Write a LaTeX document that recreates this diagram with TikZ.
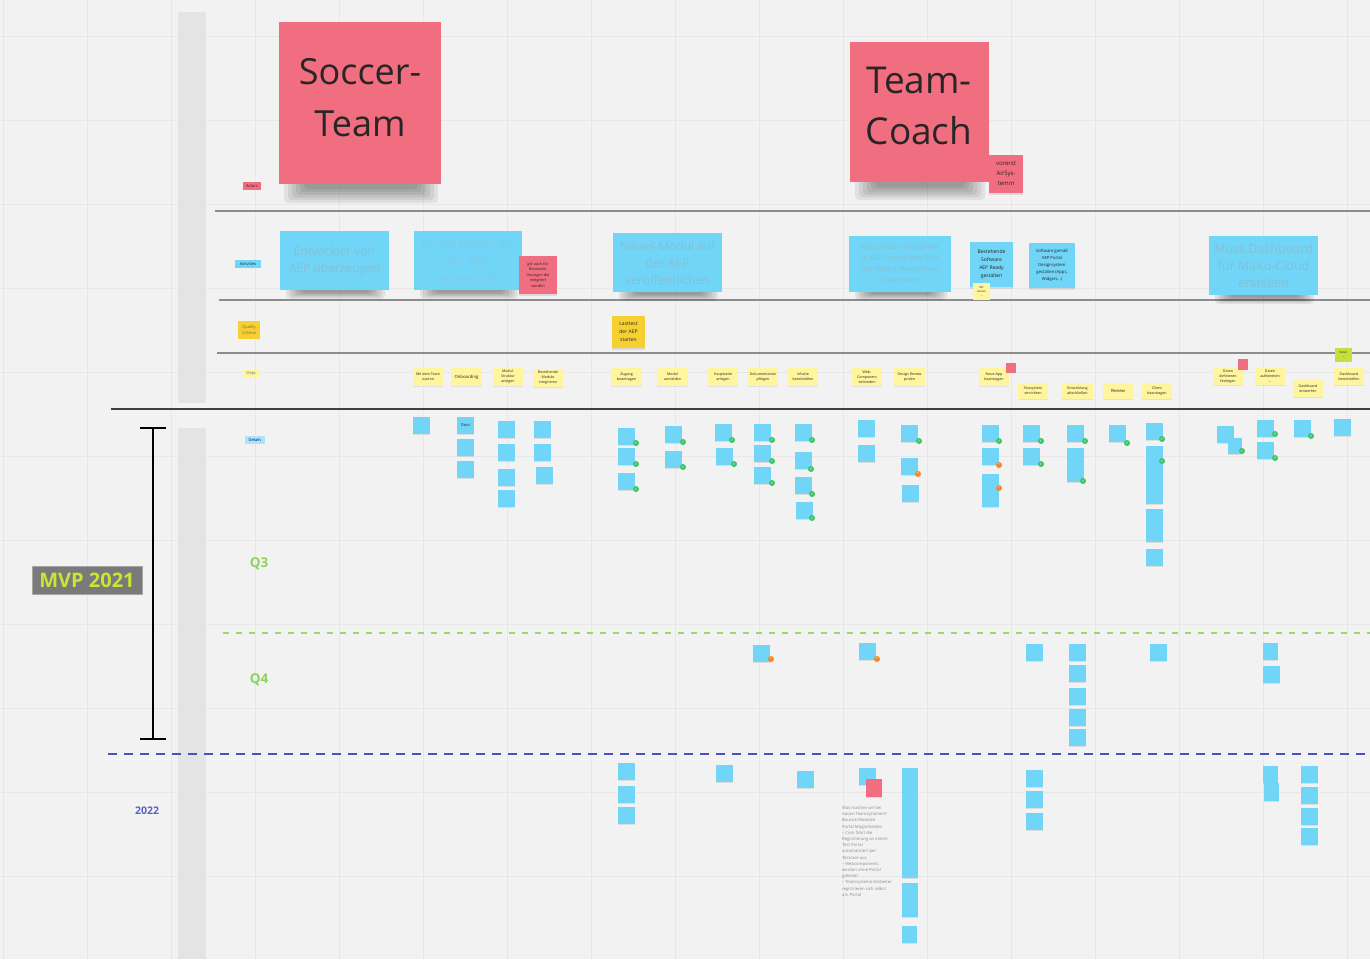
\documentclass[tikz,border=0pt]{standalone}
\usepackage{fontspec}
\setmainfont{Open Sans}
\newfontfamily\dejavu{DejaVu Sans}
\usetikzlibrary{shadows}
\definecolor{bg}{HTML}{F2F2F2}
\definecolor{gridc}{HTML}{E7E7E7}
\definecolor{band}{HTML}{E4E4E4}
\definecolor{pinkst}{HTML}{F16D80}
\definecolor{bluest}{HTML}{70D5F6}
\definecolor{yelst}{HTML}{FFF59E}
\definecolor{qyel}{HTML}{F6D030}
\definecolor{limest}{HTML}{C5DF3C}
\definecolor{faint}{HTML}{86BFD6}
\definecolor{fainter}{HTML}{7FCBE6}
\definecolor{linec}{HTML}{8C8C8C}
\definecolor{qgreen}{HTML}{8CD25E}
\definecolor{dgreen}{HTML}{9AD86A}
\definecolor{dblue}{HTML}{4A4FC6}
\definecolor{yblue}{HTML}{5A62C4}
\definecolor{mvpgrey}{HTML}{7A7A7A}
\definecolor{mvptext}{HTML}{C9E635}
\definecolor{okgreen}{HTML}{3CC468}
\definecolor{warnor}{HTML}{F7882A}
\tikzset{
  stk/.style={anchor=north west, inner sep=0pt, outer sep=0pt, align=center, text=black!85},
  pinknote/.style={stk, fill=pinkst},
  bluenote/.style={stk, fill=bluest},
  yelnote/.style={stk, fill=yelst, font=\fontsize{3.6}{5}\selectfont,
    drop shadow={shadow xshift=0pt, shadow yshift=-1pt, opacity=0.15}},
  det/.style={stk, fill=bluest, minimum width=17pt,
    drop shadow={shadow xshift=0pt, shadow yshift=-1pt, opacity=0.18}},
  chk/.style={circle, fill=okgreen, inner sep=0pt, minimum size=6pt},
  warn/.style={circle, fill=warnor, inner sep=0pt, minimum size=6pt},
  tag/.style={stk, font=\fontsize{4}{5.5}\selectfont},
  bigtxt/.style={font=\fontsize{12}{17}\selectfont, text=faint},
  lane/.style={linec, line width=1.3pt},
  bigword/.style={align=center, inner sep=0pt, text=black!85},
}
\newcommand{\stick}[7]{\node[#2, minimum width=#5pt, minimum height=#6pt] (#1) at (#3,#4) {#7};}
\newcommand{\dnote}[4][17]{\node[det, minimum height=#1pt] (#2) at (#3,#4) {};}
\newcommand{\okm}[3]{\node[chk] (#1) at (#2,#3) {\dejavu\fontsize{4}{4}\selectfont\textcolor{white}{✓}};}
\newcommand{\wrn}[3]{\node[warn] (#1) at (#2,#3) {\dejavu\fontsize{3.5}{4}\selectfont\textcolor{white}{•}};}
% soft shadow: #1 left, #2 top (sticky bottom), #3 right, #4 lowest extent, #5 step
\newcommand{\bshadow}[5]{%
  \foreach \si in {0,...,5} {%
    \fill[black, opacity=0.07, rounded corners=4pt]
      ({#1+#5*\si}, {#2-6}) rectangle ({#3-#5*\si}, {#4-\si*(#4-#2)/7});
  }%
}
\begin{document}
\begin{tikzpicture}[x=1pt, y=-1pt]
\fill[bg] (0,0) rectangle (1370,959);
\useasboundingbox (0,0) rectangle (1370,959);
% grid
\foreach \gx in {3,87,...,1347} \draw[gridc, line width=0.8pt] (\gx,0) -- (\gx,959);
\foreach \gy in {36,120,...,876} \draw[gridc, line width=0.8pt] (0,\gy) -- (1370,\gy);
% grey bands
\fill[band] (178,12) rectangle (206,403);
\fill[band] (178,428) rectangle (206,959);
% lane lines
\draw[lane] (215,211) -- (1370,211);
\draw[lane] (219,300) -- (1370,300);
\draw[lane] (217,353) -- (1370,353);
\draw[black!75, line width=1.4pt] (111,409) -- (1370,409);
% quarter / year separators
\draw[dgreen, line width=2pt, dash pattern=on 6pt off 7pt] (223,633) -- (1370,633);
\draw[dblue, line width=2.2pt, dash pattern=on 9pt off 7pt] (108,754) -- (1370,754);
% MVP bracket
\draw[black, line width=2.6pt] (153,428) -- (153,739);
\draw[black, line width=2.6pt] (140,428) -- (166,428);
\draw[black, line width=2.6pt] (140,739) -- (166,739);
\node[stk, fill=mvpgrey, draw=black!35, line width=0.6pt, minimum width=110pt, minimum height=28pt,
  text=mvptext, font=\bfseries\fontsize{20}{24}\selectfont] (mvp) at (32,566) {MVP 2021};
\node[text=qgreen, font=\bfseries\fontsize{13.5}{16}\selectfont] (q3) at (259,564) {Q3};
\node[text=qgreen, font=\bfseries\fontsize{13.5}{16}\selectfont] (q4) at (259,680) {Q4};
\node[text=yblue, font=\bfseries\fontsize{10.5}{12}\selectfont] (y22) at (147,811) {2022};
% row labels
\stick{lActors}{tag, fill=pinkst}{243}{182}{18}{8}{Actors}
\stick{lAct}{tag, fill=bluest}{235}{260}{26}{8}{Activities}
\stick{lQual}{tag, fill=qyel, text=black!60}{238}{321}{22}{18}{Quality\\Criteria}
\stick{lSteps}{tag, fill=yelst, text=black!55}{243}{370}{16}{8}{Steps}
\stick{lDet}{tag, fill=bluest!60, text=blue!50!black}{245}{436}{20}{8}{Details}
% big actor notes
\bshadow{284}{184}{438}{203}{4}
\stick{soccer}{pinknote}{279}{22}{162}{162}{}
\node[bigword, font=\fontsize{36}{52}\selectfont] (soccerT) at (360,98) {Soccer-\\Team};
\bshadow{855}{182}{985}{200}{4}
\stick{coach}{pinknote}{850}{42}{139}{140}{}
\node[bigword, font=\fontsize{37}{51}\selectfont] (coachT) at (919,106) {Team-\\Coach};
\stick{vorerst}{pinknote, font=\fontsize{6}{10}\selectfont,
  drop shadow={shadow xshift=0pt, shadow yshift=-1.5pt, opacity=0.2}}{989}{155}{34}{38}{vorerst\\AirSys-\\temm}
% activities
\bshadow{286}{290}{385}{299}{3}
\stick{act1}{bluenote, bigtxt}{280}{231}{109}{59}{Entwickler von\\AEP überzeugen}
\bshadow{420}{290}{518}{299}{3}
\stick{act2}{bluenote, bigtxt, text=fainter}{414}{231}{108}{59}{neues Modul für\\die AEP\\entwickeln}
\stick{gilt}{pinknote, font=\fontsize{3.8}{5.5}\selectfont,
  drop shadow={shadow xshift=0pt, shadow yshift=-1.5pt, opacity=0.2}}{519}{256}{38}{38}{gilt auch für\\Bestands-\\lösungen die\\integriert\\werden}
\bshadow{619}{292}{718}{301}{3}
\stick{act3}{bluenote, bigtxt}{613}{233}{109}{59}{Neues Modul auf\\der AEP\\veröffentlichen}
\bshadow{855}{292}{947}{300}{3}
\stick{act4}{bluenote, bigtxt, font=\fontsize{7.3}{11}\selectfont}{849}{236}{102}{56}{Muss Web-Component\\in AEP hinzufügen \& in\\das Modul Mako-Cloud\\integrieren}
\stick{act5}{bluenote, font=\fontsize{5}{8}\selectfont,
  drop shadow={shadow xshift=0pt, shadow yshift=-1.5pt, opacity=0.2}}{970}{242}{43}{45}{Bestehende\\Software\\AEP Ready\\gestalten}
\stick{yact5}{yelnote, font=\fontsize{2.8}{4}\selectfont}{973}{283}{17}{17}{Wir\\nutzen\\...}
\stick{act6}{bluenote, font=\fontsize{4.2}{7}\selectfont,
  drop shadow={shadow xshift=0pt, shadow yshift=-1.5pt, opacity=0.2}}{1029}{243}{46}{45}{Software gemäß\\AEP Portal\\Designsystem\\gestalten (Apps,\\Widgets...)}
\bshadow{1215}{295}{1314}{304}{3}
\stick{act7}{bluenote, bigtxt, font=\fontsize{12.5}{17}\selectfont}{1209}{236}{109}{59}{Muss Dashboard\\für MaKo-Cloud\\erstellen}
% quality criteria
\stick{qc1}{stk, fill=qyel, font=\fontsize{5}{8}\selectfont,
  drop shadow={shadow xshift=0pt, shadow yshift=-1.5pt, opacity=0.2}}{612}{316}{33}{32}{Lasttest\\der AEP\\starten}
% steps
\stick{s1}{yelnote}{413}{368}{30}{18}{Mit dem Team\\starten}
\stick{s2}{yelnote, font=\fontsize{4.3}{5}\selectfont}{451}{368}{31}{18}{Onboarding}
\stick{s3}{yelnote}{493}{368}{30}{18}{Modul-\\Struktur\\anlegen}
\stick{s4}{yelnote}{533}{369}{30}{18}{Bestehende\\Module\\integrieren}
\stick{s5}{yelnote}{611}{368}{31}{18}{Zugang\\beantragen}
\stick{s6}{yelnote}{657}{368}{31}{18}{Modul\\anmelden}
\stick{s7}{yelnote}{708}{368}{30}{18}{Hauptseite\\anlegen}
\stick{s8}{yelnote}{748}{368}{30}{18}{Dokumentation\\pflegen}
\stick{s9}{yelnote}{788}{368}{30}{18}{Inhalte\\bereitstellen}
\stick{s10}{yelnote}{852}{368}{30}{18}{Web-\\Component\\einbinden}
\stick{s11}{yelnote}{894}{368}{31}{18}{Design Review\\prüfen}
\stick{s12}{yelnote}{979}{368}{30}{18}{Neue App\\beantragen}
\stick{r1}{stk, fill=pinkst}{1006}{363}{10}{10}{}
\stick{s13}{yelnote}{1018}{383}{30}{16}{Testsystem\\einrichten}
\stick{s14}{yelnote}{1062}{383}{31}{16}{Entwicklung\\abschließen}
\stick{s15}{yelnote, font=\fontsize{4.3}{5}\selectfont}{1103}{383}{30}{16}{Review}
\stick{s16}{yelnote}{1142}{383}{30}{16}{Client\\beantragen}
\stick{s17}{yelnote}{1213}{368}{30}{17}{Daten\\definieren\\festlegen}
\stick{r2}{stk, fill=pinkst}{1238}{359}{10}{11}{}
\stick{s18}{yelnote}{1255}{368}{30}{17}{Daten\\aufbereiten\\...}
\stick{s19}{yelnote}{1293}{380}{30}{17}{Dashboard\\entwerfen}
\stick{g1}{stk, fill=limest, font=\fontsize{2.8}{4}\selectfont}{1335}{348}{17}{14}{Daten\\...}
\stick{s20}{yelnote}{1334}{368}{30}{17}{Dashboard\\bereitstellen}
% details (Q3)
\dnote{dA1}{413}{417}
\node[det, minimum height=17pt, font=\fontsize{4}{5}\selectfont] (dB1) at (457,417) {Docs};
\dnote{dB2}{457}{439}
\dnote{dB3}{457}{461}
\dnote{dC1}{498}{421}
\dnote{dC2}{498}{444}
\dnote{dC3}{498}{469}
\dnote{dC4}{498}{490}
\dnote{dD1}{534}{421}
\dnote{dD2}{534}{444}
\dnote{dD3}{536}{467}
\dnote{dE1}{618}{428} \okm{kE1}{636}{443}
\dnote{dE2}{618}{448} \okm{kE2}{636}{464}
\dnote{dE3}{618}{473} \okm{kE3}{636}{489}
\dnote{dF1}{665}{426} \okm{kF1}{683}{442}
\dnote{dF2}{665}{451} \okm{kF2}{683}{467}
\dnote{dG1}{715}{424} \okm{kG1}{732}{440}
\dnote{dG2}{716}{448} \okm{kG2}{734}{464}
\dnote{dH1}{754}{424} \okm{kH1}{772}{440}
\dnote{dH2}{754}{445} \okm{kH2}{772}{461}
\dnote{dH3}{754}{467} \okm{kH3}{772}{483}
\dnote{dI1}{795}{424} \okm{kI1}{812}{440}
\dnote{dI2}{795}{452} \okm{kI2}{811}{469}
\dnote{dI3}{795}{477} \okm{kI3}{812}{494}
\dnote{dI4}{796}{502} \okm{kI4}{812}{518}
\dnote{dJ1}{858}{420}
\dnote{dJ2}{858}{445}
\dnote{dK1}{901}{425} \okm{kK1}{919}{441}
\dnote{dK2}{901}{458} \wrn{wK2}{918}{474}
\dnote{dK3}{902}{485}
\dnote{dL1}{982}{425} \okm{kL1}{999}{441}
\dnote{dL2}{982}{448} \wrn{wL2}{999}{465}
\dnote[33]{dL3}{982}{474} \wrn{wL3}{999}{488}
\dnote{dM1}{1023}{425} \okm{kM1}{1041}{441}
\dnote{dM2}{1023}{448} \okm{kM2}{1041}{464}
\dnote{dN1}{1067}{425} \okm{kN1}{1085}{441}
\dnote[34]{dN2}{1067}{448} \okm{kN2}{1083}{481}
\dnote{dO1}{1109}{425} \okm{kO1}{1127}{443}
\dnote{dP1}{1146}{423} \okm{kP1}{1162}{439}
\dnote[26]{dP2}{1146}{446} \okm{kP2}{1162}{461}
\dnote[16]{dP3}{1146}{472}
\dnote[16]{dP4}{1146}{488}
\dnote[16]{dP5}{1146}{509}
\dnote{dP6}{1146}{525}
\dnote{dP7}{1146}{549}
\dnote{dQ1}{1217}{426}
\node[det, minimum width=14pt, minimum height=16pt] (dQ2) at (1228,438) {}; \okm{kQ2}{1242}{451}
\dnote{dR1}{1257}{420} \okm{kR1}{1275}{434}
\dnote{dR2}{1257}{442} \okm{kR2}{1275}{458}
\dnote{dS1}{1294}{420} \okm{kS1}{1311}{436}
\dnote{dT1}{1334}{419}
% details (Q4)
\dnote{eH1}{753}{645} \wrn{wH4}{771}{659}
\dnote{eJ1}{859}{643} \wrn{wJ4}{877}{659}
\dnote{eM1}{1026}{644}
\dnote{eN1}{1069}{644}
\dnote{eN2}{1069}{665}
\dnote{eN3}{1069}{688}
\dnote{eN4}{1069}{709}
\dnote{eN5}{1069}{729}
\dnote{eP1}{1150}{644}
\node[det, minimum width=15pt, minimum height=17pt] (eR1) at (1263,643) {};
\dnote{eR2}{1263}{666}
% details (2022)
\dnote{fE1}{618}{763}
\dnote{fE2}{618}{786}
\dnote{fE3}{618}{807}
\dnote{fG1}{716}{765}
\dnote{fI1}{797}{771}
\dnote{fJ1}{859}{768}
\stick{fJr}{stk, fill=pinkst, drop shadow={shadow xshift=0pt, shadow yshift=-1pt, opacity=0.18}}{866}{779}{16}{18}{}
\node[det, minimum width=16pt, minimum height=110pt] (fK1) at (902,768) {};
\node[det, minimum width=16pt, minimum height=17pt] (fK2) at (902,883) {};
\node[det, minimum width=16pt, minimum height=17pt] (fK3) at (902,900) {};
\node[det, minimum width=15pt, minimum height=17pt] (fK4) at (902,926) {};
\node[anchor=north west, inner sep=0pt, align=left, text=black!45, font=\fontsize{4.2}{6.2}\selectfont] (txt) at (842,806)
 {Was machen wir bei\\neuen Teamsystemen?\\Bounce Modulen\\Portal Möglichkeiten\\– Cork führt die\\Registrierung an einem\\Test Portal\\automatisiert per\\Testcase aus\\– Webcomponents\\werden ohne Portal\\getestet\\– Teamsystemmitarbeiter\\registrieren sich selbst\\am Portal};
\dnote{fM1}{1026}{770}
\dnote{fM2}{1026}{791}
\dnote{fM3}{1026}{813}
\node[det, minimum width=15pt, minimum height=17pt] (fR1) at (1263,766) {};
\node[det, minimum width=15pt, minimum height=18pt] (fR2) at (1264,783) {};
\dnote[17]{fS1}{1301}{766}
\dnote{fS2}{1301}{787}
\dnote{fS3}{1301}{808}
\dnote{fS4}{1301}{828}
\end{tikzpicture}
\end{document}
